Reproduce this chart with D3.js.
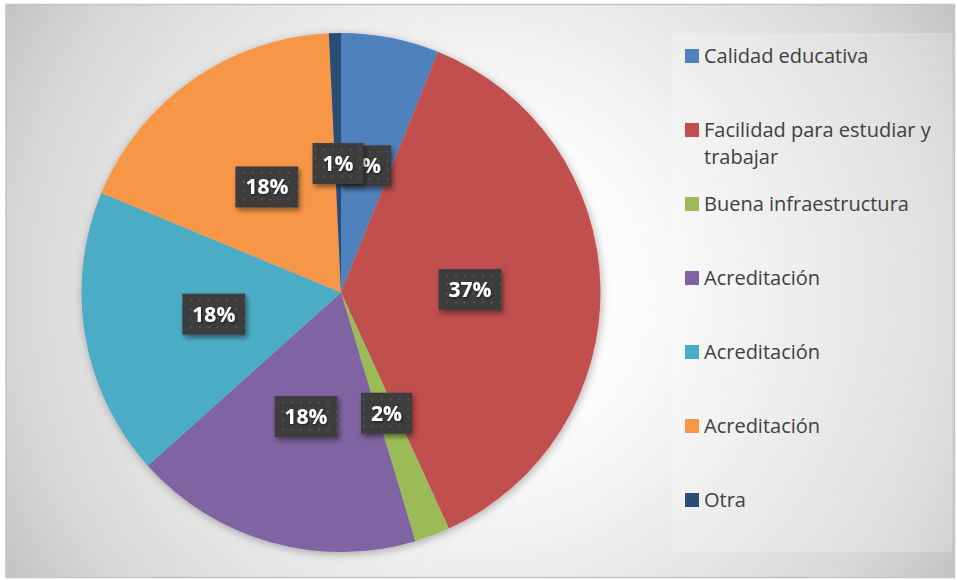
<!DOCTYPE html>
<html>
<head>
<meta charset="utf-8">
<script src="https://cdn.jsdelivr.net/npm/d3@7"></script>
<style>
  html, body { margin: 0; padding: 0; background: #ffffff; }
  svg { display: block; }
</style>
</head>
<body>
<svg id="chart" width="957" height="580"></svg>
<script>
// ---- data ----
const categories = ["Calidad educativa", "Facilidad para estudiar y trabajar", "Buena infraestructura", "Acreditación", "Acreditación", "Acreditación", "Otra"];
const values = [6.1, 37.1, 2.2, 18, 17.9, 18, 0.75];
const colors = ["#4f81bd", "#c0504d", "#9bbb59", "#8064a2", "#4bacc6", "#f79646", "#2c4d75"];

const W = 957, H = 580;
const svg = d3.select("#chart");
const defs = svg.append("defs");

// background radial gradient
const bg = defs.append("radialGradient").attr("id", "bgGrad")
  .attr("gradientUnits", "userSpaceOnUse")
  .attr("cx", 480).attr("cy", 290).attr("r", 555);
[[0, "#ffffff"], [0.3, "#fbfbfb"], [0.5, "#eeeeee"], [0.85, "#d6d6d6"], [1, "#c3c3c3"]]
  .forEach(([o, c]) => bg.append("stop").attr("offset", o).attr("stop-color", c));

// pie shadow
const f1 = defs.append("filter").attr("id", "pieShadow")
  .attr("x", "-10%").attr("y", "-10%").attr("width", "120%").attr("height", "120%");
f1.append("feDropShadow").attr("dx", 1).attr("dy", 2).attr("stdDeviation", 4)
  .attr("flood-color", "#000").attr("flood-opacity", 0.3);

// label box shadow
const f2 = defs.append("filter").attr("id", "boxShadow")
  .attr("x", "-30%").attr("y", "-30%").attr("width", "160%").attr("height", "160%");
f2.append("feDropShadow").attr("dx", 2).attr("dy", 3).attr("stdDeviation", 2.5)
  .attr("flood-color", "#000").attr("flood-opacity", 0.45);

// text shadow
const f3 = defs.append("filter").attr("id", "textShadow")
  .attr("x", "-20%").attr("y", "-20%").attr("width", "140%").attr("height", "140%");
f3.append("feDropShadow").attr("dx", 1).attr("dy", 1).attr("stdDeviation", 0.8)
  .attr("flood-color", "#000").attr("flood-opacity", 0.6);

// dotted pattern for label boxes
const pat = defs.append("pattern").attr("id", "dots")
  .attr("patternUnits", "userSpaceOnUse").attr("width", 9).attr("height", 9);
pat.append("rect").attr("width", 9).attr("height", 9).attr("fill", "#3e3e3e");
pat.append("rect").attr("x", 3).attr("y", 3).attr("width", 2).attr("height", 2).attr("fill", "#525252");

// chart area background and border
svg.append("rect").attr("x", 6).attr("y", 4.5).attr("width", 948.5).attr("height", 573)
  .attr("fill", "url(#bgGrad)").attr("stroke", "#c4c4c4").attr("stroke-width", 1.5);

// legend panel
svg.append("rect").attr("x", 672).attr("y", 33).attr("width", 280).attr("height", 519)
  .attr("fill", "#ffffff").attr("fill-opacity", 0.22);

// ---- pie ----
const cx = 341, cy = 292.5, R = 259.5;
const total = d3.sum(values);
const pie = d3.pie().sort(null).value(d => d)(values);
const arc = d3.arc().innerRadius(0).outerRadius(R);
const labelArc = d3.arc().innerRadius(129).outerRadius(129);

const g = svg.append("g").attr("transform", `translate(${cx},${cy})`);
g.append("g").attr("filter", "url(#pieShadow)")
  .selectAll("path").data(pie).join("path")
  .attr("d", arc)
  .attr("fill", (d, i) => colors[i]);

// labels
const lg = g.append("g").selectAll("g").data(pie).join("g")
  .attr("transform", d => `translate(${labelArc.centroid(d)})`);
lg.each(function (d, i) {
  const sel = d3.select(this);
  const rect = sel.append("rect").attr("fill", "url(#dots)").attr("filter", "url(#boxShadow)");
  const t = sel.append("text")
    .attr("text-anchor", "middle").attr("dy", "0.36em")
    .attr("font-family", "'Open Sans', sans-serif").attr("font-weight", "bold")
    .attr("font-size", 21).attr("fill", "#ffffff")
    .attr("filter", "url(#textShadow)")
    .text(Math.round(d.data / total * 100) + "%");
  const w = t.node().getComputedTextLength();
  const bw = w + 20, bh = 41;
  rect.attr("x", -bw / 2).attr("y", -bh / 2).attr("width", bw).attr("height", bh);
});

// ---- legend ----
const ly = d3.scalePoint().domain(d3.range(categories.length)).range([56, 500]);
const leg = svg.append("g").selectAll("g").data(categories).join("g")
  .attr("transform", (d, i) => `translate(685,${ly(i)})`);
leg.append("rect").attr("x", 0).attr("y", -7).attr("width", 14).attr("height", 14)
  .attr("fill", (d, i) => colors[i]);
leg.each(function (d) {
  const t = d3.select(this).append("text")
    .attr("x", 19).attr("y", 0)
    .attr("font-family", "'Open Sans', sans-serif").attr("font-size", 20)
    .attr("fill", "#404040");
  const words = d.split(" ");
  const maxW = 242;
  let line = [];
  let tspan = t.append("tspan").attr("x", 19).attr("dy", "0.36em");
  words.forEach(wd => {
    line.push(wd);
    tspan.text(line.join(" "));
    if (tspan.node().getComputedTextLength() > maxW && line.length > 1) {
      line.pop();
      tspan.text(line.join(" "));
      line = [wd];
      tspan = t.append("tspan").attr("x", 19).attr("dy", "1.33em").text(wd);
    }
  });
});
</script>
</body>
</html>
